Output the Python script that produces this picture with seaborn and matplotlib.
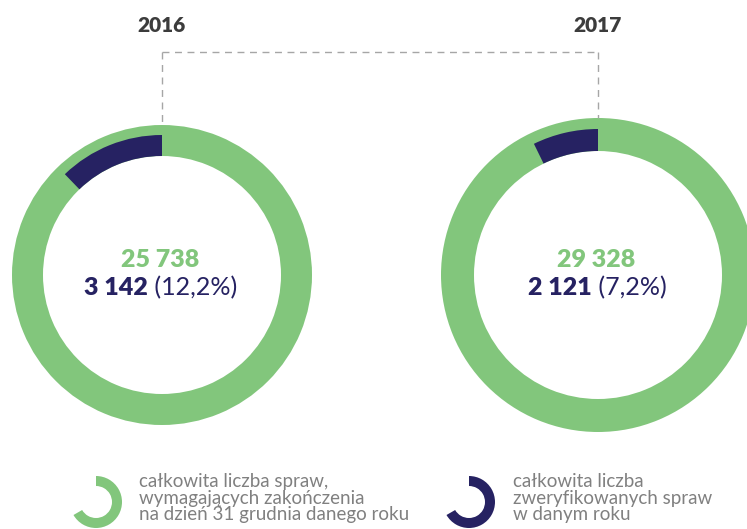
import matplotlib
matplotlib.use('Agg')
import matplotlib.pyplot as plt
import seaborn as sns

# data
years = ['2016', '2017']
total_cases = [25738, 29328]
verified_cases = [3142, 2121]
verified_pct = ['12,2%', '7,2%']
legend_labels = ['całkowita liczba spraw,\nwymagających zakończenia\nna dzień 31 grudnia danego roku',
                 'całkowita liczba\nzweryfikowanych spraw\nw danym roku']

GREEN = '#82c67c'
NAVY = '#262262'
W, H = 747, 529

sns.set_theme(style='white')
plt.rcParams['font.family'] = ['Lato', 'DejaVu Sans']

fig = plt.figure(figsize=(W / 100, H / 100), dpi=100)
ax = fig.add_axes([0, 0, 1, 1])

# layout in pixels (y from top)
centers = [(162, 275), (598, 275)]
radii = [150, 157]
ring = [31, 33]
navy_out = [140, 146]


def fmt(n):
    return f'{n:,}'.replace(',', ' ')


for i in range(2):
    cx, cy = centers[i]
    c = (cx, H - cy)
    R = radii[i]
    inner = R - ring[i]
    ax.pie([total_cases[i]], colors=[GREEN], radius=R, center=c, startangle=90,
           wedgeprops=dict(width=ring[i], linewidth=0))
    ax.pie([verified_cases[i], total_cases[i] - verified_cases[i]], colors=[NAVY, 'none'],
           radius=navy_out[i], center=c, startangle=90, counterclock=True,
           wedgeprops=dict(width=navy_out[i] - inner, linewidth=0))

ax.set_xlim(0, W)
ax.set_ylim(0, H)
ax.set_aspect('equal')
ax.axis('off')

# dashed connector
top_y = 52
for i in range(2):
    cx, cy = centers[i]
    ax.plot([cx, cx], [H - top_y, H - (cy - radii[i])], ls=(0, (5, 4)), color='#a6a6a6', lw=1)
ax.plot([centers[0][0], centers[1][0]], [H - top_y, H - top_y], ls=(0, (5, 4)), color='#a6a6a6', lw=1)

renderer = fig.canvas.get_renderer()
for i in range(2):
    cx, cy = centers[i]
    ax.text(cx, H - 25, years[i], ha='center', va='center', fontsize=15, fontweight='heavy', color='#3c3c3c')
    ax.text(cx - 2, H - 260, fmt(total_cases[i]), ha='center', va='center', fontsize=18,
            fontweight='heavy', color=GREEN)
    t1 = ax.text(0, H - 288, fmt(verified_cases[i]), ha='left', va='center', fontsize=18,
                 fontweight='heavy', color=NAVY)
    t2 = ax.text(0, H - 288, ' (' + verified_pct[i] + ')', ha='left', va='center', fontsize=18,
                 color=NAVY)
    w1 = t1.get_window_extent(renderer).width
    w2 = t2.get_window_extent(renderer).width
    x0 = cx - 1 - (w1 + w2) / 2
    t1.set_x(x0)
    t2.set_x(x0 + w1)

# legend
leg_icons = [(96, 502), (469, 502)]
leg_text_x = [139, 513]
for i, col in enumerate([GREEN, NAVY]):
    ix, iy = leg_icons[i]
    ax.pie([240, 120], colors=[col, 'none'], radius=26, center=(ix, H - iy), startangle=210,
           counterclock=True, wedgeprops=dict(width=10, linewidth=0))
    ax.text(leg_text_x[i], H - 473, legend_labels[i], ha='left', va='top', fontsize=13.5,
            color='#808080', linespacing=0.98)

ax.set_xlim(0, W)
ax.set_ylim(0, H)
ax.axis('off')

fig.savefig('out.png', dpi=100)
